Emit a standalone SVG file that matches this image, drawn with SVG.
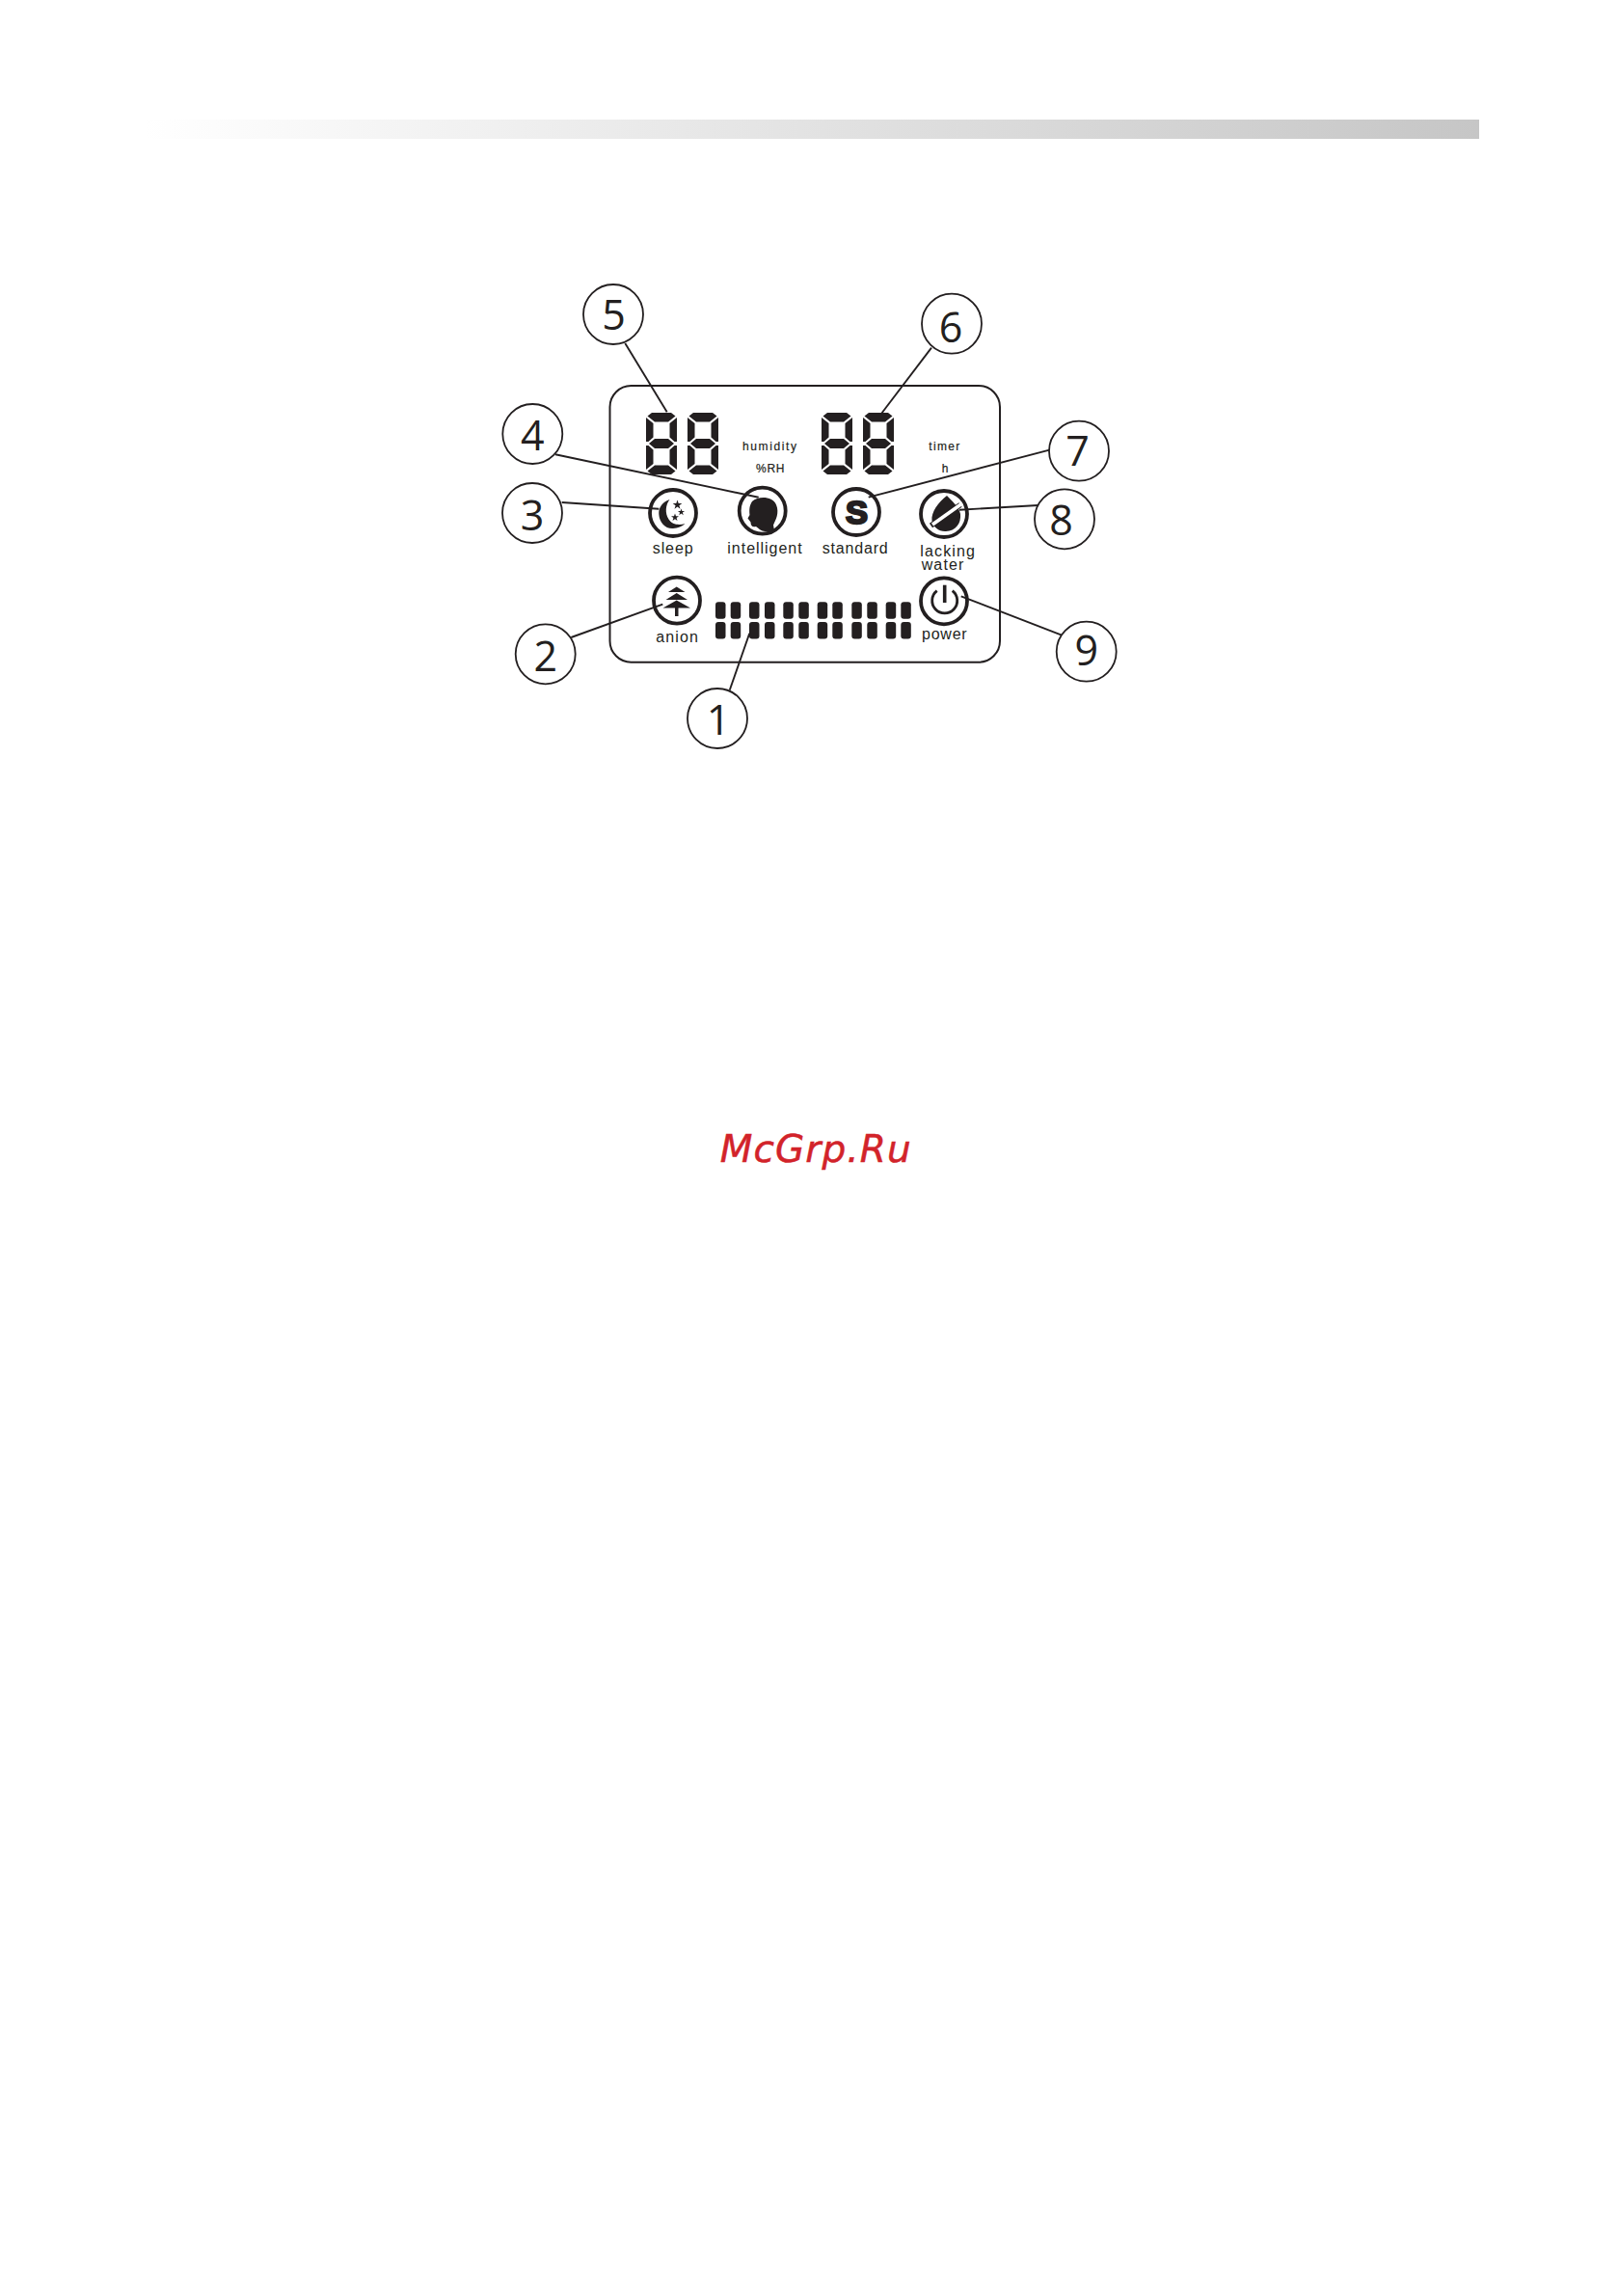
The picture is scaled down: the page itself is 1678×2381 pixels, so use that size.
<svg xmlns="http://www.w3.org/2000/svg" xmlns:xlink="http://www.w3.org/1999/xlink" width="1678" height="2381" viewBox="0 0 1678 2381">
<style>
.ink{fill:#231f20}
.lead{stroke:#231f20;stroke-width:1.9;fill:none}
.num{fill:#fff;stroke:#231f20;stroke-width:1.8}
.ring{fill:#fff;stroke:#231f20;stroke-width:3.8}
.n{font-family:"Open Sans","Liberation Sans",sans-serif;font-size:43px;fill:#231f20;text-anchor:middle}
.lab{font-family:"Liberation Sans",Arial,sans-serif;font-size:16px;fill:#231f20}
.sm{font-family:"Liberation Sans",Arial,sans-serif;font-size:12px;fill:#231f20;stroke:#231f20;stroke-width:.2}
.bar{fill:#231f20}
</style>
<defs>
<linearGradient id="fade" x1="0" y1="0" x2="1" y2="0"><stop offset="0" stop-color="#ffffff"/><stop offset="1" stop-color="#c6c6c6"/></linearGradient>
<g id="eight" class="ink">
<polygon points="6,0 26,0 30.5,3.5 23,9.5 9,9.5 1.5,3.5"/>
<polygon points="0,5 7.5,11 7.5,25.5 2.5,30 0,30"/>
<polygon points="32,5 24.5,11 24.5,25.5 29.5,30 32,30"/>
<polygon points="3,32 9,27 23,27 29,32 23,37 9,37"/>
<polygon points="0,34 2.5,34 7.5,38.5 7.5,53 0,59"/>
<polygon points="32,34 29.5,34 24.5,38.5 24.5,53 32,59"/>
<polygon points="1.5,60.5 9,54.5 23,54.5 30.5,60.5 26,64 6,64"/>
</g>
</defs>
<rect width="1678" height="2381" fill="#fff"/>
<rect id="header-band" x="150" y="124" width="1384" height="20" fill="url(#fade)"/>
<g id="panel"><rect x="632.5" y="400" width="404.5" height="286.7" rx="22" fill="#fff" stroke="#231f20" stroke-width="2"/></g>

<g id="display-humidity">
<use xlink:href="#eight" href="#eight" x="670" y="428"/>
<use xlink:href="#eight" href="#eight" x="713" y="428"/>
<text class="sm" x="770" y="467.3" textLength="56">humidity</text>
<text class="sm" x="784" y="490" textLength="29.5">%RH</text>
</g>
<g id="display-timer">
<use xlink:href="#eight" href="#eight" x="852" y="428"/>
<use xlink:href="#eight" href="#eight" x="895" y="428"/>
<text class="sm" x="963.3" y="467.3" textLength="32">timer</text>
<text class="sm" x="976.7" y="490">h</text>
</g>

<g id="icon-sleep">
<circle class="ring" cx="698" cy="532" r="24"/>
<path class="ink" d="M694.5 518 C686 521 683 527 683.3 533 C683.8 542 690 548.5 698 548 C703 547.7 707.5 546 710.5 543 C704 545 697 544 693.5 538.5 C689.5 532 690 524 694.5 518Z"/>
<path class="ink" d="M702.5 518.5l1.2 3.5h3.6l-2.9 2.2 1.1 3.6-3-2.2-3 2.2 1.1-3.6-2.9-2.2h3.6z"/>
<path class="ink" d="M706.5 527.5l.9 2.5h2.7l-2.2 1.6.8 2.6-2.2-1.6-2.2 1.6.8-2.6-2.2-1.6h2.7z"/>
<path class="ink" d="M700 532.5l1 2.8h3l-2.4 1.8.9 2.9-2.5-1.8-2.5 1.8.9-2.9-2.4-1.8h3z"/>
<text class="lab" x="676.7" y="574" textLength="42">sleep</text>
</g>
<g id="icon-intelligent">
<circle class="ring" cx="790.7" cy="529.7" r="24"/>
<path class="ink" d="M780 520 C786 514.5 801 514 805 523.5 C808.5 532 804.5 539 802 544.5 L803 550 C797 552.5 790 551.5 786 547.5 L784 546 C780.5 547 778.5 545.5 778.5 541.5 L775.5 537.5 L777.5 534 C777 529 777 524.5 780 520Z"/>
<text class="lab" x="754.3" y="574" textLength="77.4">intelligent</text>
</g>
<g id="icon-standard">
<circle class="ring" cx="888" cy="531" r="24"/>
<text x="877" y="543" textLength="23" lengthAdjust="spacingAndGlyphs" font-family="Liberation Sans,Arial,sans-serif" font-weight="700" font-size="34" fill="#231f20" stroke="#231f20" stroke-width="2.4">S</text>
<text class="lab" x="852.7" y="574" textLength="68">standard</text>
</g>
<g id="icon-lacking-water">
<circle class="ring" cx="979" cy="533" r="24"/>
<path class="ink" d="M982 514 C973 521 965.5 531 966.5 540 C967.5 546.5 974 551.5 981 551 C991 550.5 997 543 996 533 C995 526 987 519.5 982 514Z"/>
<line x1="965.5" y1="545" x2="996" y2="523.5" stroke="#231f20" stroke-width="5.5"/>
<line x1="967" y1="544" x2="998" y2="522" stroke="#fff" stroke-width="3.6"/>
<text class="lab" x="954.3" y="576.8" textLength="56.7">lacking</text>
<text class="lab" x="955.7" y="590.7" textLength="43.6">water</text>
</g>
<g id="icon-anion">
<circle class="ring" cx="702" cy="622.7" r="24"/>
<polygon class="ink" points="701.7,608.5 710.5,614 693,614"/>
<polygon class="ink" points="701.7,615 713,622 690.5,622"/>
<polygon class="ink" points="701.7,622.5 716,630.5 687.5,630.5"/>
<rect class="ink" x="700" y="630" width="3.5" height="9"/>
<text class="lab" x="680.3" y="665.5" textLength="43.7">anion</text>
</g>
<g id="icon-power">
<circle class="ring" cx="979" cy="623.3" r="24"/>
<path d="M971.7 612.7 A13 13 0 1 0 987.7 612.7" fill="none" stroke="#231f20" stroke-width="2.8"/>
<line x1="979.7" y1="606.7" x2="979.7" y2="625" stroke="#231f20" stroke-width="3.6"/>
<text class="lab" x="956" y="662.7" textLength="46.7">power</text>
</g>
<g id="level-bars">
<rect class="bar" x="742" y="624.3" width="10.5" height="17.5" rx="3"/><rect class="bar" x="742" y="645" width="10.5" height="17.5" rx="3"/>
<rect class="bar" x="757.7" y="624.3" width="10.5" height="17.5" rx="3"/><rect class="bar" x="757.7" y="645" width="10.5" height="17.5" rx="3"/>
<rect class="bar" x="777" y="624.3" width="10.5" height="17.5" rx="3"/><rect class="bar" x="777" y="645" width="10.5" height="17.5" rx="3"/>
<rect class="bar" x="793" y="624.3" width="10.5" height="17.5" rx="3"/><rect class="bar" x="793" y="645" width="10.5" height="17.5" rx="3"/>
<rect class="bar" x="812.3" y="624.3" width="10.5" height="17.5" rx="3"/><rect class="bar" x="812.3" y="645" width="10.5" height="17.5" rx="3"/>
<rect class="bar" x="828.3" y="624.3" width="10.5" height="17.5" rx="3"/><rect class="bar" x="828.3" y="645" width="10.5" height="17.5" rx="3"/>
<rect class="bar" x="847.7" y="624.3" width="10.5" height="17.5" rx="3"/><rect class="bar" x="847.7" y="645" width="10.5" height="17.5" rx="3"/>
<rect class="bar" x="863.3" y="624.3" width="10.5" height="17.5" rx="3"/><rect class="bar" x="863.3" y="645" width="10.5" height="17.5" rx="3"/>
<rect class="bar" x="883.3" y="624.3" width="10.5" height="17.5" rx="3"/><rect class="bar" x="883.3" y="645" width="10.5" height="17.5" rx="3"/>
<rect class="bar" x="899.3" y="624.3" width="10.5" height="17.5" rx="3"/><rect class="bar" x="899.3" y="645" width="10.5" height="17.5" rx="3"/>
<rect class="bar" x="918.7" y="624.3" width="10.5" height="17.5" rx="3"/><rect class="bar" x="918.7" y="645" width="10.5" height="17.5" rx="3"/>
<rect class="bar" x="934.3" y="624.3" width="10.5" height="17.5" rx="3"/><rect class="bar" x="934.3" y="645" width="10.5" height="17.5" rx="3"/>
</g>

<g id="connectors">
<line class="lead" x1="756.7" y1="715.7" x2="777.3" y2="656.7"/>
<line class="lead" x1="592.3" y1="661" x2="687.3" y2="626.7"/>
<line class="lead" x1="582.7" y1="521" x2="683.3" y2="527.7"/>
<line class="lead" x1="576" y1="471.3" x2="786.7" y2="515.7"/>
<line class="lead" x1="648.3" y1="356" x2="691.7" y2="427.3"/>
<line class="lead" x1="966" y1="360.7" x2="914" y2="429"/>
<line class="lead" x1="1088.3" y1="466.7" x2="900.7" y2="515.7"/>
<line class="lead" x1="1076.7" y1="524" x2="995" y2="528.7"/>
<line class="lead" x1="1101" y1="658.7" x2="996.7" y2="618.3"/>
</g>

<g id="callout-1"><circle class="num" cx="744" cy="745" r="31"/><text class="n" x="745" y="762.3">1</text></g>
<g id="callout-2"><circle class="num" cx="565.7" cy="678.3" r="31"/><text class="n" x="565.7" y="696">2</text></g>
<g id="callout-3"><circle class="num" cx="552" cy="532" r="31"/><text class="n" x="552" y="550">3</text></g>
<g id="callout-4"><circle class="num" cx="552.3" cy="450" r="31"/><text class="n" x="552.3" y="466.7">4</text></g>
<g id="callout-5"><circle class="num" cx="636" cy="326" r="31"/><text class="n" x="636.5" y="341.5">5</text></g>
<g id="callout-6"><circle class="num" cx="987" cy="335.7" r="31"/><text class="n" x="986" y="355.3">6</text></g>
<g id="callout-7"><circle class="num" cx="1119" cy="467.7" r="31"/><text class="n" x="1117.5" y="482.7">7</text></g>
<g id="callout-8"><circle class="num" cx="1104" cy="538.3" r="31"/><text class="n" x="1100.5" y="555.3">8</text></g>
<g id="callout-9"><circle class="num" cx="1126.7" cy="675.7" r="31"/><text class="n" x="1126.7" y="690">9</text></g>

<text id="watermark" x="746.7" y="1205" textLength="198" font-family="DejaVu Sans,sans-serif" font-style="oblique" font-size="39" fill="#d2232a" stroke="#d2232a" stroke-width=".5">McGrp.Ru</text>
</svg>
